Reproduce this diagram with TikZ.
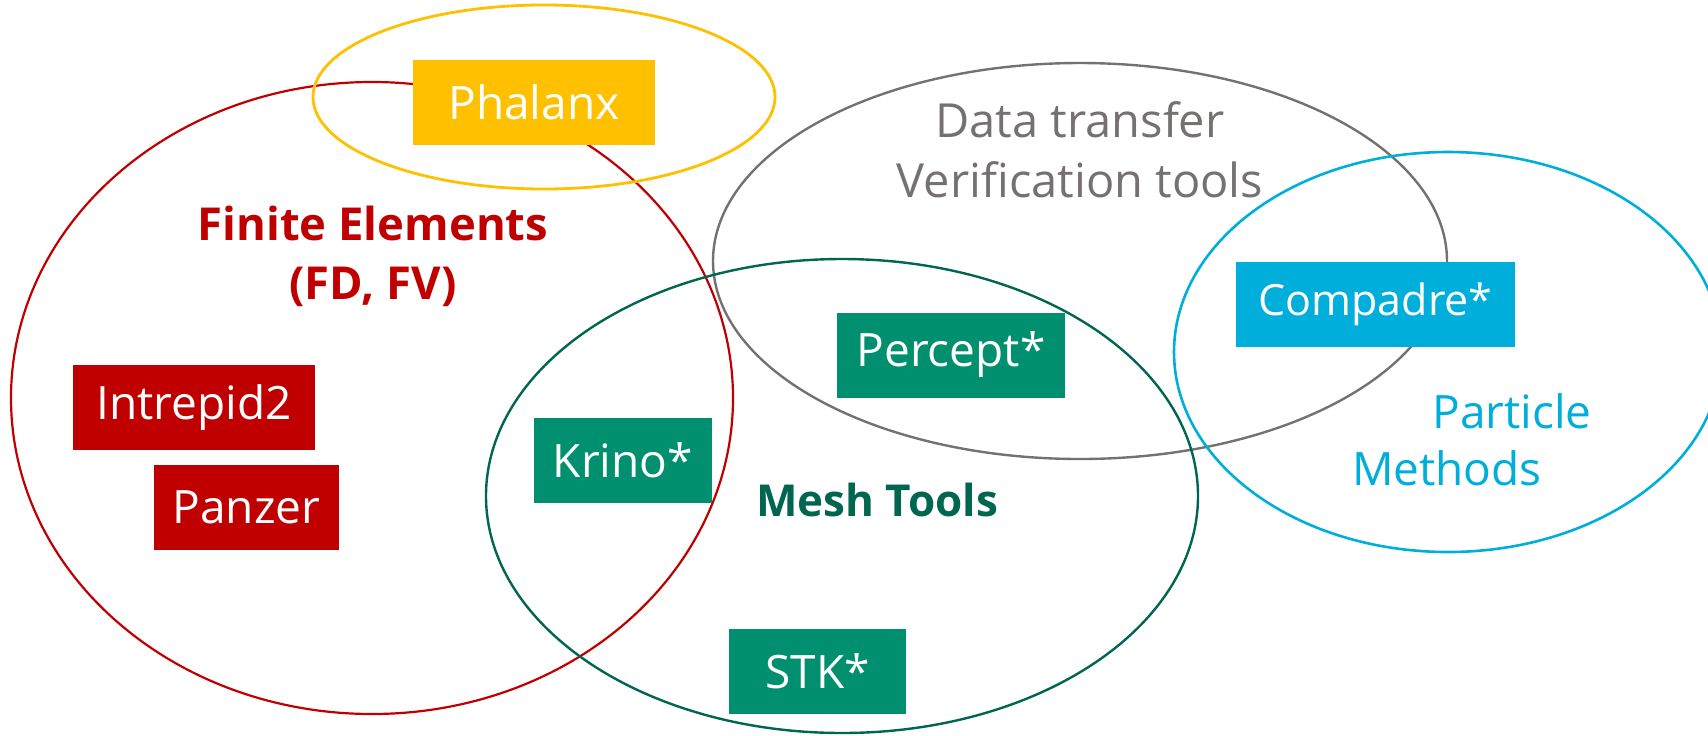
\documentclass[tikz,border=0pt]{standalone}
\usepackage{fontspec}
\setmainfont{Open Sans}
\definecolor{feRed}{HTML}{C00000}
\definecolor{phYellow}{HTML}{FFC000}
\definecolor{dtGray}{HTML}{767171}
\definecolor{meshBox}{HTML}{00906F}
\definecolor{meshLine}{HTML}{00664F}
\definecolor{pmCyan}{HTML}{00AEDB}

\begin{document}
\begin{tikzpicture}[x=0.5pt,y=-0.5pt,
    pkgbox/.style={fill=#1, text=white, inner sep=0pt, minimum height=42.5pt,
      font=\fontsize{23}{28}\selectfont},
    setlabel/.style={text=#1, align=center, inner sep=0pt,
      font=\fontsize{23}{29.5}\selectfont}]
  \useasboundingbox (0,0) rectangle (1708,735);
  % the sets
  \draw[feRed, line width=1.1pt] (372,398) ellipse [x radius=361, y radius=316];
  \draw[phYellow, line width=1.4pt] (544,97) ellipse [x radius=231, y radius=92];
  \draw[dtGray, line width=1.2pt] (1080,261) ellipse [x radius=367, y radius=198];
  \draw[meshLine, line width=1.2pt] (842,496) ellipse [x radius=356, y radius=237];
  \draw[pmCyan, line width=1.3pt] (1448,352) ellipse [x radius=274, y radius=200];
  % set names
  \node[setlabel=feRed, font=\fontsize{22.7}{29.5}\selectfont\bfseries] (fe) at (373,256) {Finite Elements\\(FD, FV)};
  \node[setlabel=dtGray, font=\fontsize{23.5}{30}\selectfont] (dt) at (1080,150) {Data transfer\\Verification tools};
  \node[setlabel=meshLine, font=\fontsize{22}{29}\selectfont\bfseries] (mesh) at (877,500) {Mesh Tools};
  \node[setlabel=pmCyan] (pmA) at (1512,411) {Particle};
  \node[setlabel=pmCyan] (pmB) at (1447,468) {Methods};
  % packages
  \node[pkgbox=phYellow, minimum width=121pt] (phalanx) at (534,102.5) {Phalanx};
  \node[pkgbox=feRed, minimum width=121pt] (intrepid) at (194,407.5) {Intrepid2};
  \node[pkgbox=feRed, minimum width=92.5pt] (panzer) at (246.5,507.5) {Panzer};
  \node[pkgbox=meshBox, minimum width=89pt] (krino) at (623,460.5) {Krino*};
  \node[pkgbox=meshBox, minimum width=114pt] (percept) at (951,355) {Percept*};
  \node[pkgbox=meshBox, minimum width=88.5pt] (stk) at (817.5,671) {STK*};
  \node[pkgbox=pmCyan, minimum width=139.5pt, font=\fontsize{21.5}{28}\selectfont] (compadre) at (1375.5,304.5) {Compadre*};
\end{tikzpicture}
\end{document}
